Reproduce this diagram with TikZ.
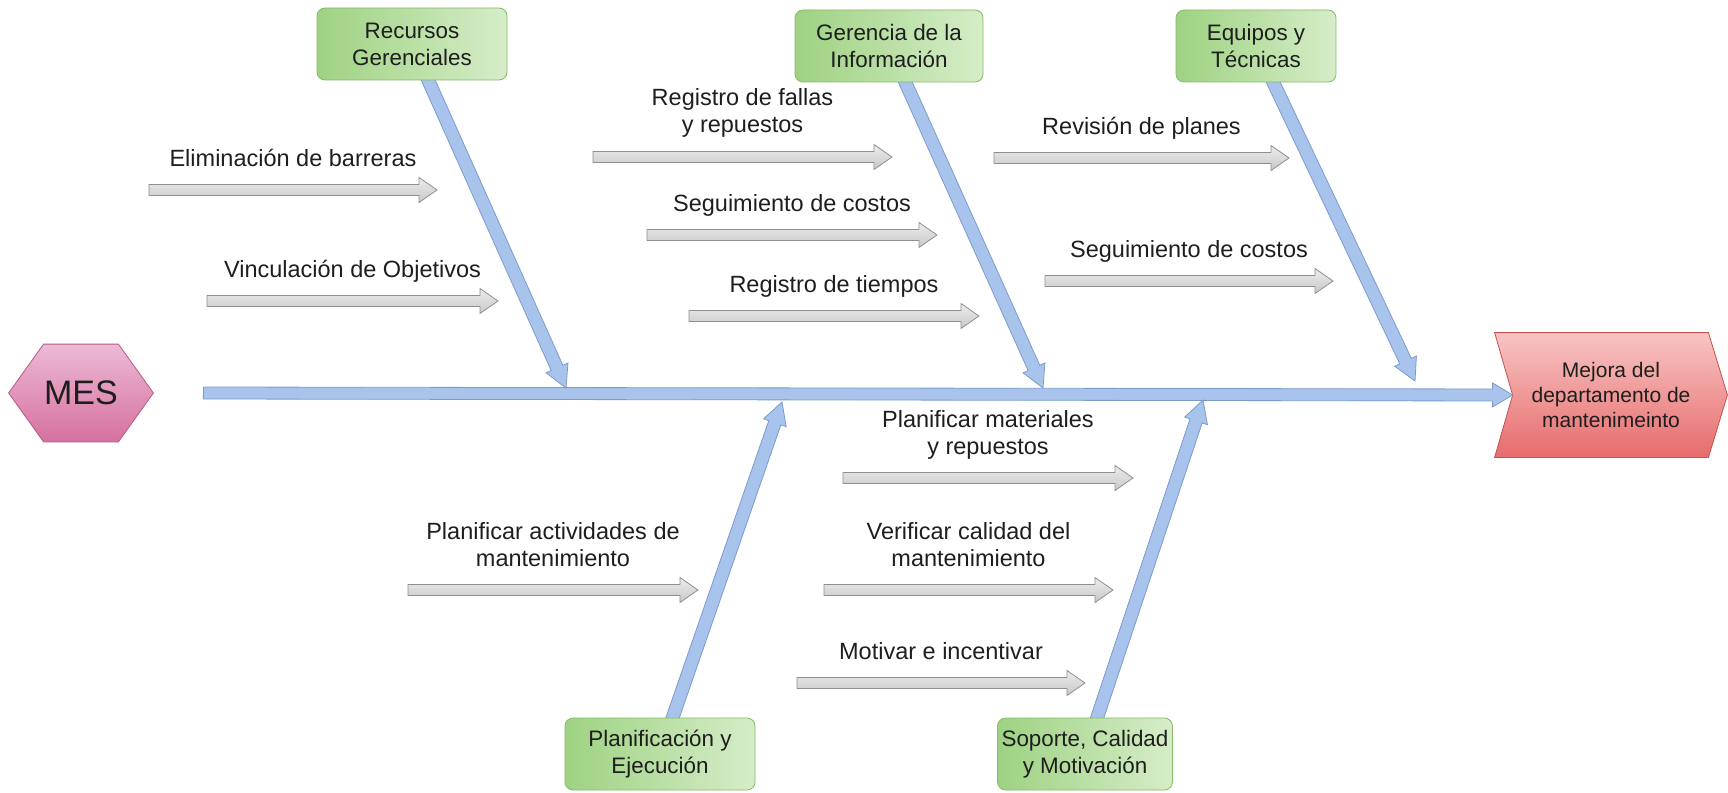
\documentclass[tikz,border=0pt]{standalone}
\usepackage{fontspec}
\setmainfont{Liberation Sans}
\usetikzlibrary{calc,positioning,backgrounds}

\tikzset{
    blockarrow/.style args={#1/#2/#3}{to path={
        let \p1=($(\tikztotarget)!#3!(\tikztostart)$) in
        ($(\tikztostart)!#1!90:(\tikztotarget)$)
        -- ($(\p1)!#1!90:(\tikztotarget)$)
        -- ($(\p1)!#2!90:(\tikztotarget)$)
        -- (\tikztotarget)
        -- ($(\p1)!#2!-90:(\tikztotarget)$)
        -- ($(\p1)!#1!-90:(\tikztotarget)$)
        -- ($(\tikztostart)!#1!-90:(\tikztotarget)$) -- cycle}}
}

\begin{document}
\begin{tikzpicture}[x=0.5pt,y=-0.5pt,
    causebox/.style={draw=boxline, rounded corners=4pt, left color=boxgreenL,
        right color=boxgreenR, align=center, minimum height=36pt, inner sep=2pt,
        text=txtgray, font=\fontsize{11.2}{13.5}\selectfont},
    lbl/.style={align=center, inner sep=0pt, text depth=0pt, text=txtgray,
        font=\fontsize{11.75}{13.5}\selectfont},
    brancharrow/.style={draw=blueline, fill=bluefill, blockarrow=3.2pt/6pt/11pt},
    subarrow/.style={draw=grayline, top color=grayL, bottom color=grayD,
        blockarrow=2.75pt/6.25pt/9pt}]
    \definecolor{txtgray}{RGB}{30,30,30}
    \definecolor{boxgreenL}{RGB}{158,210,130}
    \definecolor{boxgreenR}{RGB}{214,237,200}
    \definecolor{boxline}{RGB}{134,185,106}
    \definecolor{bluefill}{RGB}{168,196,236}
    \definecolor{blueline}{RGB}{123,155,204}
    \definecolor{grayL}{RGB}{236,236,236}
    \definecolor{grayD}{RGB}{200,200,200}
    \definecolor{grayline}{RGB}{143,143,143}
    \definecolor{mesL}{RGB}{236,186,212}
    \definecolor{mesD}{RGB}{214,112,158}
    \definecolor{mesline}{RGB}{180,90,136}
    \definecolor{effL}{RGB}{248,196,196}
    \definecolor{effD}{RGB}{231,108,108}
    \definecolor{effline}{RGB}{196,80,79}

    \useasboundingbox (0,0) rectangle (1728,792);

    % head and effect
    \node[minimum width=72pt, minimum height=48.5pt, inner sep=0pt, text=txtgray,
        font=\fontsize{17}{20}\selectfont] (mes) at (81,393) {MES};
    \node[minimum width=116pt, minimum height=62pt, inner sep=0pt, align=center,
        text=txtgray, font=\fontsize{10.5}{12.5}\selectfont] (eff) at (1611,395)
        {Mejora del\\departamento de\\mantenimeinto};

    % causes
    \node[causebox, minimum width=95pt] (rec) at (412,44) {Recursos\\Gerenciales};
    \node[causebox, minimum width=94pt] (ger) at (889,46) {Gerencia de la\\Información};
    \node[causebox, minimum width=80pt] (equ) at (1256,46) {Equipos y\\Técnicas};
    \node[causebox, minimum width=95pt] (pla) at (660,754) {Planificación y\\Ejecución};
    \node[causebox, minimum width=85pt] (sop) at (1085,754) {Soporte, Calidad\\y Motivación};

    % spine ends and branch tips
    \coordinate (spl) at ([xshift=25pt]mes.east);
    \coordinate (spr) at ([xshift=9pt]eff.west);
    \coordinate (recT) at (566,388);
    \coordinate (gerT) at (1043,388);
    \coordinate (equT) at (1415,381);
    \coordinate (plaT) at (782,402);
    \coordinate (sopT) at (1203,400);

    \begin{scope}[on background layer]
        \draw[mesline, top color=mesL, bottom color=mesD]
            (mes.west) -- ([xshift=17.5pt]mes.north west) -- ([xshift=-17.5pt]mes.north east)
            -- (mes.east) -- ([xshift=-17.5pt]mes.south east) -- ([xshift=17.5pt]mes.south west)
            -- cycle;
        \draw[effline, top color=effL, bottom color=effD]
            (eff.north west) -- ([xshift=-9.5pt]eff.north east) -- (eff.east)
            -- ([xshift=-9.5pt]eff.south east) -- (eff.south west) -- (spr) -- cycle;

        % spine
        \draw[draw=blueline, fill=bluefill, blockarrow=3pt/6pt/10pt] (spl) to (spr);

        % branches
        \draw[brancharrow] (rec) to (recT);
        \draw[brancharrow] (ger) to (gerT);
        \draw[brancharrow] (equ) to (equT);
        \draw[brancharrow] (pla) to (plaT);
        \draw[brancharrow] (sop) to (sopT);
    \end{scope}

    % sub causes
    \foreach \xa/\xb/\yy/\txt [count=\i] in {
        149/437/190/{Eliminación de barreras},
        207/498/301/{Vinculación de Objetivos},
        593/892/157/{Registro de fallas\\y repuestos},
        647/937/235/{Seguimiento de costos},
        689/979/316/{Registro de tiempos},
        994/1289/158/{Revisión de planes},
        1045/1333/281/{Seguimiento de costos},
        843/1133/478/{Planificar materiales\\y repuestos},
        824/1113/590/{Verificar calidad del\\mantenimiento},
        797/1085/683/{Motivar e incentivar},
        408/698/590/{Planificar actividades de\\mantenimiento}}
    {
        \coordinate (a\i) at (\xa,\yy);
        \coordinate (b\i) at (\xb,\yy);
        \coordinate (m\i) at ($(a\i)!.5!(b\i)$);
        \draw[subarrow] (a\i) to (b\i);
        \node[lbl, above=11.8pt of m\i] (t\i) {\txt};
    }
\end{tikzpicture}
\end{document}
